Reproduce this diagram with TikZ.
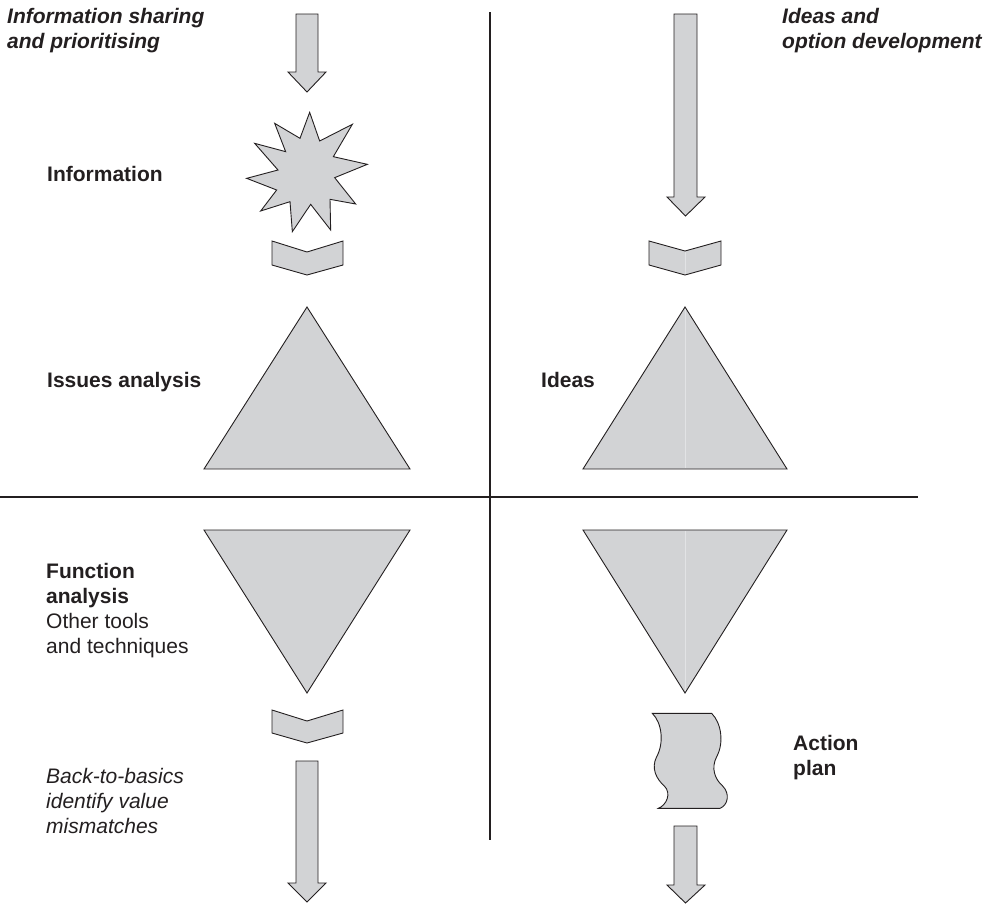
\documentclass[tikz,border=0pt]{standalone}
\usepackage{fontspec}
\setmainfont{Liberation Sans}
\definecolor{lineC}{HTML}{231F20}
\definecolor{fillC}{HTML}{D2D3D5}
\definecolor{seamC}{HTML}{E2E3E5}
\begin{document}
\begin{tikzpicture}[x=1pt,y=-1pt,
  shp/.style={draw=lineC, fill=fillC, line width=0.9pt, line join=miter},
  seam/.style={draw=seamC, line width=0.6pt},
  divider/.style={draw=lineC, line width=2pt},
  lbl/.style={anchor=north west, inner sep=0pt, align=left, text=lineC,
    font=\fontsize{21}{25}\selectfont}]
\useasboundingbox (0,0) rectangle (992,905);

% dividers
\draw[divider] (490,12) -- (490,840);
\draw[divider] (0,497) -- (918,497);

% ---- top left quadrant ----
\draw[shp] (296,14) -- (318,14) -- (318,72) -- (326,72) -- (307,92) -- (288,72) -- (296,72) -- cycle;
\begin{scope}[shift={(307-199/3,172-201/3)}, scale=1/3]
\draw[shp] (207,22) -- (237,108) -- (335,58) -- (278,155) -- (380,178)
  -- (282,218) -- (345,297) -- (268,283) -- (270,375) -- (210,298) -- (155,380)
  -- (148,290) -- (60,318) -- (108,255) -- (18,220) -- (112,195) -- (42,115)
  -- (135,140) -- (102,55) -- (178,100) -- cycle;
\end{scope}
\draw[shp] (272,241) -- (307,252) -- (343,241) -- (343,265) -- (307,275) -- (272,265) -- cycle;
\draw[shp] (307,307) -- (410,469) -- (204,469) -- cycle;

\node[lbl, font=\fontsize{21}{25}\selectfont\bfseries\itshape] (t1) at (7,8) {Information sharing\\and prioritising};
\node[lbl, font=\fontsize{21}{25}\selectfont\bfseries] (t2) at (47,166) {Information};
\node[lbl, font=\fontsize{21}{25}\selectfont\bfseries] (t3) at (47,372) {Issues analysis};

% ---- top right quadrant ----
\draw[shp] (674,14) -- (697,14) -- (697,197) -- (705,197) -- (685.5,216) -- (667,197) -- (674,197) -- cycle;
\draw[shp] (649,241) -- (685,251) -- (721,241) -- (721,265) -- (685,275) -- (649,265) -- cycle;
\draw[seam] (685,252) -- (685,274);
\draw[shp] (685,307) -- (787,469) -- (583,469) -- cycle;
\draw[seam] (685,309) -- (685,468);

\node[lbl, font=\fontsize{21}{25}\selectfont\bfseries\itshape] (t4) at (782,8) {Ideas and\\option development};
\node[lbl, font=\fontsize{21}{25}\selectfont\bfseries] (t5) at (541,372) {Ideas};

% ---- bottom left quadrant ----
\draw[shp] (204,530) -- (410,530) -- (307,693) -- cycle;
\draw[shp] (272,710) -- (307,721) -- (343,710) -- (343,733) -- (307,743) -- (272,733) -- cycle;
\draw[shp] (296,761) -- (318,761) -- (318,883) -- (326,883) -- (307,902) -- (288,883) -- (296,883) -- cycle;

\node[lbl] (t6) at (46,563) {\textbf{Function}\\\textbf{analysis}\\Other tools\\and techniques};
\node[lbl, font=\fontsize{21}{25}\selectfont\itshape] (t7) at (46,768) {Back-to-basics\\identify value\\mismatches};

% ---- bottom right quadrant ----
\draw[shp] (583,530) -- (787,530) -- (685,693) -- cycle;
\draw[seam] (685,531) -- (685,691);
\begin{scope}[shift={(620,690)}, scale=1/3]
\draw[shp] (97,70) -- (275,70)
  .. controls (305,100) and (312,160) .. (290,200)
  .. controls (272,235) and (285,268) .. (308,288)
  .. controls (330,310) and (325,345) .. (300,355)
  -- (115,355)
  .. controls (140,345) and (155,310) .. (133,288)
  .. controls (110,268) and (92,235) .. (110,200)
  .. controls (132,160) and (127,100) .. (97,70)
  -- cycle;
\end{scope}
\draw[shp] (674,826) -- (697,826) -- (697,885) -- (705,885) -- (685.5,903) -- (667,885) -- (674,885) -- cycle;

\node[lbl, font=\fontsize{21}{25}\selectfont\bfseries] (t8) at (793,735) {Action\\plan};
\end{tikzpicture}
\end{document}
